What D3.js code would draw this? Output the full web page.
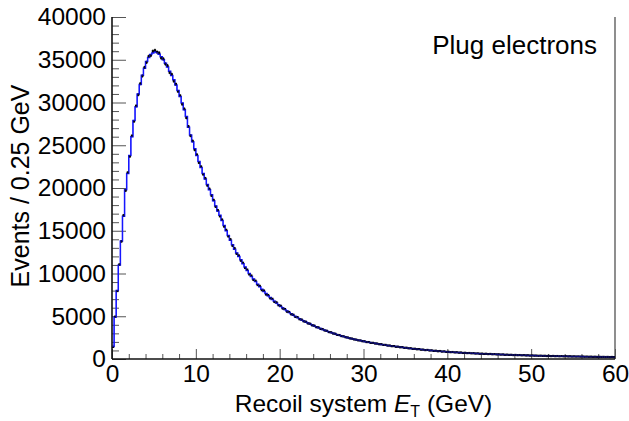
<!DOCTYPE html>
<html>
<head>
<meta charset="utf-8">
<script src="https://cdn.jsdelivr.net/npm/d3@7"></script>
<style>
  html, body { margin: 0; padding: 0; background: #fff; }
  svg { display: block; }
  text { font-family: "Liberation Sans", Arial, Helvetica, sans-serif; fill: #000; }
</style>
</head>
<body>
<svg id="chart" width="629" height="421"></svg>
<script>
// ---- data ----
const binWidth = 0.25;                 // GeV per bin
const xRange = [0, 60];
const yRange = [0, 40000];
const xMajorTicks = [0, 10, 20, 30, 40, 50, 60];
const yMajorTicks = [0, 5000, 10000, 15000, 20000, 25000, 30000, 35000, 40000];
const xTitle = "Recoil system ";
const yTitle = "Events / 0.25 GeV";
const legendLabel = "Plug electrons";

// simulation (blue histogram), one value per 0.25 GeV bin
const mcCounts = [
1450,4900,8000,11000,13800,16700,19800,21700,23800,26000,
27900,29500,31000,32100,33200,34000,34800,35250,35600,35800,
35950,35850,35650,35350,35000,34600,34150,33650,33150,32650,
32050,31400,30700,29950,29150,28350,27100,26200,25400,24600,
23800,23100,22400,21700,21050,20400,19800,19200,18500,17900,
17300,16800,16200,15600,15000,14450,13900,13350,12850,12400,
12000,11600,11150,10750,10350,10000,9650,9350,9050,8750,
8450,8150,7900,7650,7400,7180,6960,6750,6550,6350,
6150,5960,5780,5600,5440,5280,5130,4980,4840,4700,
4570,4440,4320,4200,4090,3980,3870,3760,3660,3560,
3460,3360,3270,3180,3090,3010,2930,2850,2780,2700,
2630,2560,2500,2430,2370,2310,2250,2200,2150,2100,
2050,2000,1960,1910,1870,1830,1790,1750,1710,1670,
1630,1590,1560,1520,1490,1450,1420,1390,1360,1330,
1300,1270,1240,1210,1180,1160,1130,1110,1080,1060,
1040,1010,990,970,950,930,910,890,870,850,
830,815,800,785,770,755,740,725,710,700,
685,675,660,650,640,625,615,605,595,585,
575,565,555,545,535,525,515,505,495,490,
480,470,465,455,450,440,435,425,420,410,
405,400,390,385,380,375,365,360,355,350,
345,340,335,330,325,320,315,310,305,300,
298,293,288,284,280,276,272,268,264,260,
256,252,249,245,242,238,235,232,228,225
];

// data (black points), one value per 0.25 GeV bin
const dataCounts = [
1420,4950,7950,11050,13750,16800,19700,21800,23700,26100,
27800,29600,30900,32200,33100,34100,34700,35400,35500,36000,
36100,35900,35800,35200,35100,34500,34300,33500,33300,32500,
32150,31300,30800,29800,29250,28200,27200,26100,25500,24450,
23900,22950,22500,21600,21150,20300,19900,19100,18600,17800,
17400,16700,16300,15500,15100,14350,14000,13250,12950,12300,
12100,11500,11250,10650,10450,9900,9750,9250,9150,8650,
8550,8050,8000,7550,7480,7100,7040,6680,6620,6280,
6220,5900,5840,5540,5500,5230,5180,4930,4890,4650,
4610,4400,4360,4160,4130,3940,3910,3720,3700,3520,
3490,3330,3300,3150,3120,2980,2960,2820,2800,2680,
2650,2540,2520,2410,2390,2290,2270,2180,2170,2080,
2070,1980,1980,1890,1890,1810,1810,1730,1730,1650,
1650,1570,1580,1500,1510,1430,1440,1370,1380,1310,
1320,1250,1260,1190,1200,1140,1150,1090,1100,1040,
1060,990,1010,950,970,910,930,870,890,830,
850,800,815,770,790,740,760,710,725,690,
700,665,675,640,655,615,630,595,610,575,
590,555,570,535,550,515,530,495,510,480,
490,460,475,445,460,430,445,415,430,400,
415,390,400,375,390,365,375,350,365,340,
355,330,345,320,335,310,325,300,315,292,
305,285,295,276,288,268,280,260,272,252,
262,245,255,238,248,232,242,226,236,220
];

// ---- drawing ----
const svg = d3.select("#chart");
const plot = { left: 112, right: 615, top: 17, bottom: 359 };
const FONT = "Liberation Sans, Arial, sans-serif";

const x = d3.scaleLinear().domain(xRange).range([plot.left, plot.right]);
const y = d3.scaleLinear().domain(yRange).range([plot.bottom, plot.top]);

const bins = mcCounts.map((v, i) => ({ lo: i * binWidth, hi: (i + 1) * binWidth, mc: v, data: dataCounts[i] }));

// frame (right border)
svg.append("line")
  .attr("x1", plot.right).attr("x2", plot.right)
  .attr("y1", plot.top).attr("y2", plot.bottom)
  .attr("stroke", "#444").attr("stroke-width", 1.2);

// minor ticks
const yMinor = d3.range(0, 40001, 1000).filter(v => v % 5000 !== 0);
const xMinor = d3.range(0, 61, 2).filter(v => v % 10 !== 0);

const yMinorAxis = d3.axisLeft(y).tickValues(yMinor).tickSize(-7).tickFormat("");
const xMinorAxis = d3.axisBottom(x).tickValues(xMinor).tickSize(-5).tickFormat("");
svg.append("g").attr("transform", `translate(${plot.left},0)`).call(yMinorAxis)
  .call(g => g.select(".domain").remove())
  .call(g => g.selectAll("line").attr("stroke", "#555"));
svg.append("g").attr("transform", `translate(0,${plot.bottom})`).call(xMinorAxis)
  .call(g => g.select(".domain").remove())
  .call(g => g.selectAll("line").attr("stroke", "#555"));

// major axes
const yAxis = d3.axisLeft(y).tickValues(yMajorTicks).tickSize(-14).tickPadding(6).tickFormat(d3.format("d"));
const xAxis = d3.axisBottom(x).tickValues(xMajorTicks).tickSize(-10).tickPadding(8).tickFormat(d3.format("d"));

const gy = svg.append("g").attr("transform", `translate(${plot.left},0)`).call(yAxis);
gy.select(".domain").remove();
gy.selectAll("line").attr("stroke", "#555");
gy.selectAll("text").attr("font-size", 24.5).attr("font-family", FONT).attr("fill", "#000");

const gx = svg.append("g").attr("transform", `translate(0,${plot.bottom})`).call(xAxis);
gx.select(".domain").remove();
gx.selectAll("line").attr("stroke", "#555");
gx.selectAll("text").attr("font-size", 24.5).attr("font-family", FONT).attr("fill", "#000").attr("dy", "0.71em").attr("y", 6);

// axis lines
svg.append("line").attr("x1", plot.left).attr("x2", plot.left).attr("y1", plot.top).attr("y2", plot.bottom)
  .attr("stroke", "#111").attr("stroke-width", 1.6);
svg.append("line").attr("x1", plot.left).attr("x2", plot.right).attr("y1", plot.bottom).attr("y2", plot.bottom)
  .attr("stroke", "#111").attr("stroke-width", 1.6);

// MC histogram (step)
const stepPts = bins.map(b => [b.lo, b.mc]);
stepPts.push([bins[bins.length - 1].hi, bins[bins.length - 1].mc]);
const line = d3.line().x(d => x(d[0])).y(d => y(d[1])).curve(d3.curveStepAfter);
svg.append("path").attr("d", line(stepPts))
  .attr("fill", "none").attr("stroke", "#1010ff").attr("stroke-width", 1.5);

// data points with error bars
const gd = svg.append("g");
gd.selectAll("line.err").data(bins).join("line")
  .attr("class", "err")
  .attr("x1", b => x((b.lo + b.hi) / 2)).attr("x2", b => x((b.lo + b.hi) / 2))
  .attr("y1", b => y(b.data + Math.sqrt(b.data))).attr("y2", b => y(b.data - Math.sqrt(b.data)))
  .attr("stroke", "#000").attr("stroke-width", 1);
gd.selectAll("rect.pt").data(bins).join("rect")
  .attr("class", "pt")
  .attr("x", b => x((b.lo + b.hi) / 2) - 1.1).attr("y", b => y(b.data) - 1.1)
  .attr("width", 2.2).attr("height", 2.2).attr("fill", "#000");

// blue overlay so the histogram reads through the points as in the original
svg.append("path").attr("d", line(stepPts))
  .attr("fill", "none").attr("stroke", "#2020ff").attr("stroke-width", 0.8).attr("opacity", 0.6);

// titles
svg.append("text")
  .attr("transform", `translate(29,${(plot.top + plot.bottom) / 2 - 2}) rotate(-90)`)
  .attr("text-anchor", "middle").attr("font-size", 25)
  .text(yTitle);

const xt = svg.append("text")
  .attr("x", (plot.left + plot.right) / 2).attr("y", 412)
  .attr("text-anchor", "middle").attr("font-size", 24.5);
xt.append("tspan").text(xTitle);
xt.append("tspan").attr("font-style", "italic").text("E");
xt.append("tspan").attr("font-size", 16).attr("dy", 5).text("T");
xt.append("tspan").attr("dy", -5).text(" (GeV)");

svg.append("text")
  .attr("x", 597).attr("y", 54)
  .attr("text-anchor", "end").attr("font-size", 26)
  .text(legendLabel);
</script>
</body>
</html>
